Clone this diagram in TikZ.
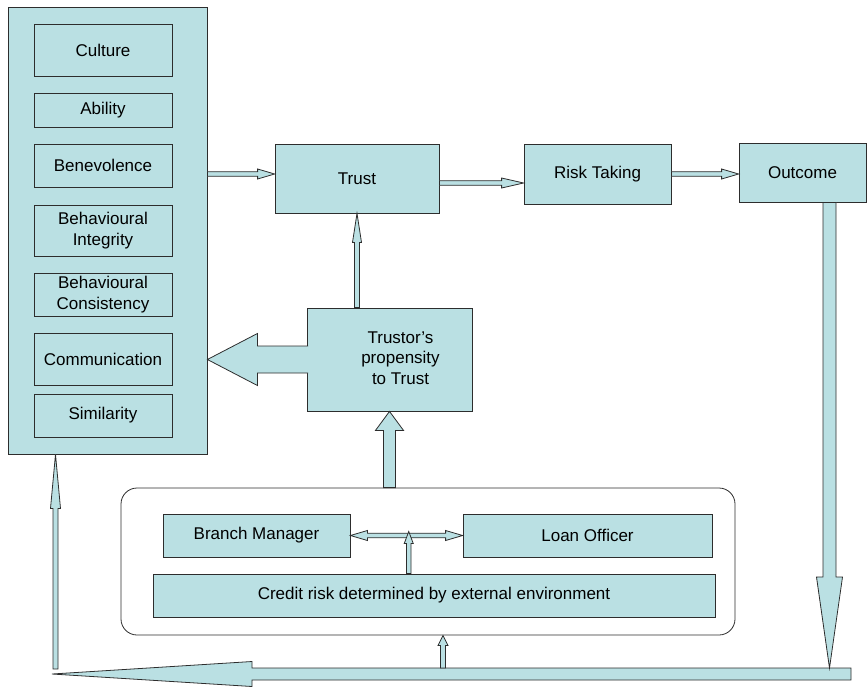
\documentclass[tikz,border=0pt]{standalone}
\usepackage{fontspec}
\setmainfont{Liberation Sans}
\usetikzlibrary{calc, positioning}
\definecolor{boxCyan}{HTML}{BAE0E3}
\definecolor{lineDark}{HTML}{2D2D2D}

% outline of a block arrow: start, end, shaft half width, head half width
\newcommand{\flowpath}[4]{($(#1)!#3!90:(#2)$) -- ($(fa-h)!#3!-90:(#1)$)
    -- ($(fa-h)!#4!-90:(#1)$) -- (#2) -- ($(fa-h)!#4!90:(#1)$)
    -- ($(fa-h)!#3!90:(#1)$) -- ($(#1)!#3!-90:(#2)$)}
% block arrow: [end of outline], start, end, shaft half, head half, head length
\newcommand{\flowarrow}[6][-- cycle]{%
  \coordinate (fa-h) at ($(#3)!#6!(#2)$);
  \fill[boxCyan] \flowpath{#2}{#3}{#4}{#5} -- cycle;
  \draw[arrowbody] \flowpath{#2}{#3}{#4}{#5} #1;
}

\begin{document}
\begin{tikzpicture}[x=1pt, y=1pt,
    stage/.style={rectangle, draw=lineDark, fill=boxCyan, line width=0.8pt,
                  inner sep=0pt, align=center,
                  font=\fontsize{17}{20.5}\selectfont},
    factor/.style={stage, minimum width=138pt, minimum height=#1},
    arrowbody/.style={draw=lineDark, line width=0.8pt},
  ]
    \useasboundingbox (0,0) rectangle (867,-686);

    % antecedents of trust
    \node[stage, minimum width=199pt, minimum height=447pt] (factors) at (107.5,-230.5) {};
    \node[factor=52pt] (culture) at (103,-50) {Culture};
    \node[factor=34pt] (ability) at (103,-110) {Ability};
    \node[factor=43pt] (benev) at (103,-165.5) {Benevolence};
    \node[factor=51pt] (integ) at (103,-230.5) {Behavioural\\Integrity};
    \node[factor=43pt] (consist) at (103,-294.5) {Behavioural\\Consistency};
    \node[factor=52pt] (comm) at (103,-359) {Communication};
    \node[factor=43pt] (simil) at (103,-415.5) {Similarity};

    \node[stage, minimum width=164pt, minimum height=69pt] (trust) at (357,-178.5) {Trust};
    \node[stage, minimum width=147pt, minimum height=60pt] (risk) at (597.5,-174) {Risk Taking};
    \node[stage, minimum width=127pt, minimum height=59pt] (outcome) at (802.5,-172.5) {Outcome};
    \node[stage, minimum width=165pt, minimum height=103pt] (prop) at (389.5,-359.5)
      {\hspace*{22pt}\begin{tabular}{@{}c@{}}Trustor’s\\propensity\\to Trust\end{tabular}};

    % bank context
    \node[draw=lineDark, fill=white, line width=0.8pt, rounded corners=16pt,
          minimum width=614pt, minimum height=147pt] (group) at (428,-561.5) {};
    \node[stage, minimum width=187pt, minimum height=43pt] (bm) at (256.5,-535.5) {Branch Manager};
    \node[stage, minimum width=249pt, minimum height=43pt] (lo) at (587.5,-535.5) {Loan Officer};
    \node[stage, minimum width=562pt, minimum height=43pt] (credit) at (434,-595.5)
      {Credit risk determined by external environment};

    % top row
    \coordinate (toTrust) at ([yshift=4.5pt]trust.west);
    \coordinate (fromFactors) at (factors.east |- toTrust);
    \flowarrow{fromFactors}{toTrust}{2.3pt}{5pt}{17pt}
    \coordinate (trustOut) at ([yshift=-4.5pt]trust.east);
    \coordinate (riskIn) at (risk.west |- trustOut);
    \flowarrow{trustOut}{riskIn}{2.3pt}{5pt}{22pt}
    \coordinate (outIn) at (outcome.west |- risk.east);
    \flowarrow{risk.east}{outIn}{2.3pt}{5pt}{17pt}

    % propensity
    \coordinate (propUp) at (trust.south |- prop.north);
    \flowarrow{propUp}{trust.south}{2.5pt}{4.5pt}{29pt}
    \coordinate (propOut) at ([xshift=1.5pt]prop.west);
    \coordinate (propTip) at (factors.east |- prop.west);
    \flowarrow[]{propOut}{propTip}{13.5pt}{26pt}{50pt}
    \coordinate (groupUp) at (prop.south |- group.north);
    \flowarrow{groupUp}{prop.south}{6pt}{14pt}{19pt}

    % inside the bank
    \coordinate (mid) at ($(bm.east)!0.52!(lo.west)$);
    \flowarrow{mid}{bm.east}{2.3pt}{5pt}{17pt}
    \flowarrow{mid}{lo.west}{2.3pt}{5pt}{17pt}
    \coordinate (creditUp) at (mid |- credit.north);
    \coordinate (midTip) at ([yshift=4pt]mid);
    \flowarrow{creditUp}{midTip}{2.3pt}{4.5pt}{12pt}

    % feedback loop
    \coordinate (barR) at (851,-674);
    \coordinate (barL) at (52,-674);
    \flowarrow{barR}{barL}{6pt}{12.5pt}{200pt}
    \coordinate (drop) at (829.5,-668);
    \coordinate (dropTop) at (drop |- outcome.south);
    \flowarrow{dropTop}{drop}{6.5pt}{13pt}{91pt}
    \coordinate (rise) at (55.5,-669);
    \coordinate (riseTop) at (rise |- factors.south);
    \flowarrow{rise}{riseTop}{2.5pt}{5pt}{54pt}
    \coordinate (feed) at (443,-668);
    \coordinate (feedTop) at (feed |- group.south);
    \flowarrow{feed}{feedTop}{2.5pt}{5pt}{10pt}
\end{tikzpicture}
\end{document}
